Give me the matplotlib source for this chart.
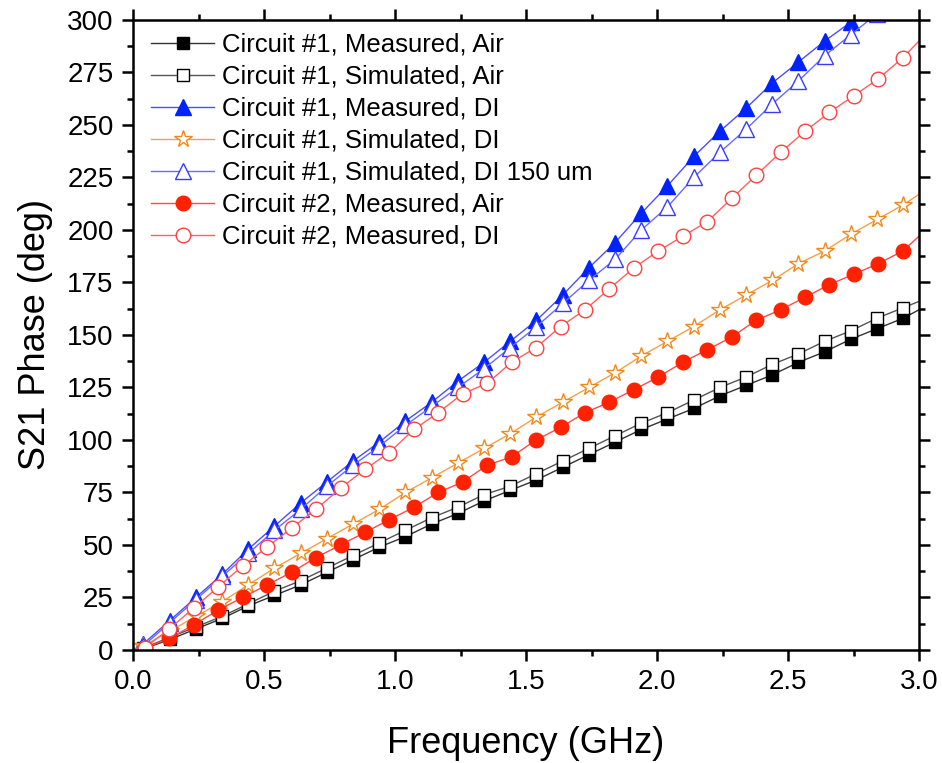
import matplotlib

matplotlib.use("Agg")

import matplotlib.pyplot as plt
from matplotlib.lines import Line2D
from matplotlib.ticker import MultipleLocator

plt.rcParams["font.family"] = ["Liberation Sans", "DejaVu Sans"]

# circuit #1 sweep points (GHz)
freq_c1 = [0.04, 0.14, 0.24, 0.34, 0.44, 0.54, 0.64, 0.74, 0.84, 0.94,
           1.04, 1.14, 1.24, 1.34, 1.44, 1.54, 1.64, 1.74, 1.84, 1.94,
           2.04, 2.14, 2.24, 2.34, 2.44, 2.54, 2.64, 2.74, 2.84, 2.94]
# circuit #2 sweep points (GHz)
freq_c2 = [0.045, 0.138, 0.232, 0.325, 0.418, 0.512, 0.605, 0.698, 0.792, 0.885,
           0.978, 1.072, 1.165, 1.258, 1.352, 1.445, 1.538, 1.632, 1.725, 1.818,
           1.912, 2.005, 2.098, 2.192, 2.285, 2.378, 2.472, 2.565, 2.658, 2.752,
           2.845, 2.938]

c1_meas_air = [0.5, 5, 10, 15, 21, 26, 31, 37, 43, 49, 54, 60, 65, 71, 76,
               81, 87, 93, 99, 105, 110, 115, 121, 126, 131, 137, 142, 148, 153, 158]
c1_sim_air = [1, 6, 11, 16, 22, 28, 33, 39, 45, 51, 57, 63, 68, 74, 78,
              84, 90, 96, 102, 108, 113, 119, 125, 130, 136, 141, 147, 152, 158, 163]
c1_meas_di = [3, 14, 25, 36, 48, 59, 70, 80, 90, 99, 109, 118, 128, 137, 147,
              157, 169, 182, 194, 208, 221, 235, 247, 258, 270, 280, 290, 299, 309, 319]
c1_sim_di = [2, 9, 16, 23, 31, 39, 46, 53, 60, 67, 75, 82, 89, 96, 103,
             111, 118, 125, 132, 140, 147, 154, 162, 169, 176, 184, 190, 198, 205, 212]
c1_sim_di_150 = [2, 13, 24, 35, 46, 57, 67, 78, 88, 97, 107, 116, 125, 134, 144,
                 154, 165, 176, 186, 200, 211, 225, 237, 248, 260, 271, 283, 293, 303, 313]
c2_meas_air = [1, 5.5, 12, 19, 25, 31, 37, 44, 50, 56, 62, 68, 75, 80, 88, 92,
               100, 106, 113, 118, 124, 130, 137, 143, 149, 157, 162, 168, 174, 179, 184, 190]
c2_meas_di = [1, 10, 20, 30, 40, 49, 58, 67, 77, 86, 94, 105, 113, 122, 127, 137,
              144, 154, 162, 172, 182, 190, 197, 204, 215, 226, 237, 247, 256, 264, 272, 282]

# phase where each trace meets the 3 GHz edge
end_values = [162, 166, 328, 217, 321, 197, 290]

labels = [
    "Circuit #1, Measured, Air",
    "Circuit #1, Simulated, Air",
    "Circuit #1, Measured, DI",
    "Circuit #1, Simulated, DI",
    "Circuit #1, Simulated, DI 150 um",
    "Circuit #2, Measured, Air",
    "Circuit #2, Measured, DI",
]

series = [
    (freq_c1, c1_meas_air),
    (freq_c1, c1_sim_air),
    (freq_c1, c1_meas_di),
    (freq_c1, c1_sim_di),
    (freq_c1, c1_sim_di_150),
    (freq_c2, c2_meas_air),
    (freq_c2, c2_meas_di),
]

styles = [
    dict(line="#333333", marker="s", ms=8.3, face="black", edge="black"),
    dict(line="#555555", marker="s", ms=8.3, face="white", edge="black"),
    dict(line="#4d4dff", marker="^", ms=11, face="#0022ff", edge="#0022ff"),
    dict(line="#f5a04a", marker="*", ms=13, face="white", edge="#f08a1e"),
    dict(line="#6a6aff", marker="^", ms=11, face="white", edge="#3a3aff"),
    dict(line="#ff4a4a", marker="o", ms=10.5, face="#ff2200", edge="#ff2200"),
    dict(line="#ff6060", marker="o", ms=10.5, face="white", edge="#ff4040"),
]

fig = plt.figure(figsize=(9.42, 7.63), dpi=100)
ax = fig.add_axes([0.1412, 0.1481, 0.8344, 0.8257])

handles = []
for (freq, phase), end, st, label in zip(series, end_values, styles, labels):
    ax.plot([0.0] + freq + [3.0], [0.0] + phase + [end], color=st["line"], lw=1.0)
    ax.plot(freq, phase, ls="none", marker=st["marker"], ms=st["ms"],
            mfc=st["face"], mec=st["edge"], mew=1.0)
    handles.append(Line2D([], [], color=st["line"], lw=1.0, marker=st["marker"],
                          ms=st["ms"], mfc=st["face"], mec=st["edge"], mew=1.0))

ax.set_xlim(0, 3.0)
ax.set_ylim(0, 300)
ax.xaxis.set_major_locator(MultipleLocator(0.5))
ax.xaxis.set_minor_locator(MultipleLocator(0.25))
ax.yaxis.set_major_locator(MultipleLocator(25))
ax.yaxis.set_minor_locator(MultipleLocator(12.5))
ax.xaxis.set_major_formatter(plt.FormatStrFormatter("%.1f"))

for spine in ax.spines.values():
    spine.set_linewidth(1.8)
ax.tick_params(which="both", direction="out", top=True, right=True, width=1.8)
ax.tick_params(which="major", length=8, labelsize=20, pad=6)
ax.tick_params(which="minor", length=4.5)

ax.set_xlabel("Frequency (GHz)", fontsize=26, labelpad=22)
ax.set_ylabel("S21 Phase (deg)", fontsize=26, labelpad=10)

ax.legend(handles, labels, loc="upper left", frameon=False, fontsize=18.5,
          handlelength=2.45, handletextpad=0.3, labelspacing=0.31,
          borderaxespad=0.0, borderpad=0.35, numpoints=1,
          bbox_to_anchor=(0.012, 0.994))

fig.savefig("out.png", dpi=100)
